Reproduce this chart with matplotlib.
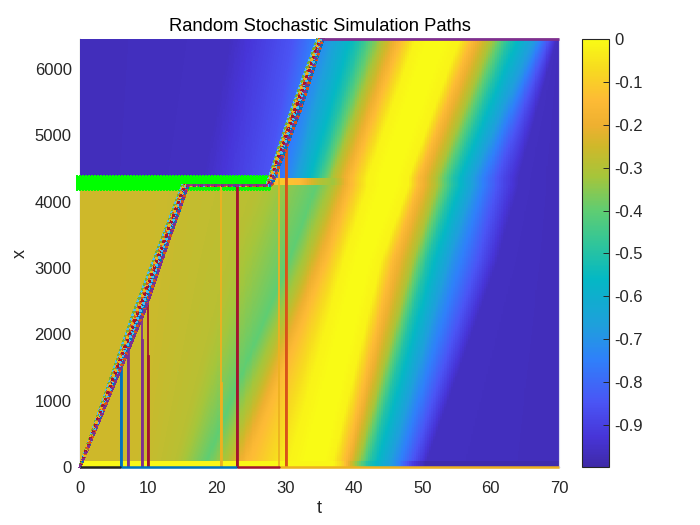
#!/usr/bin/env python3

import matplotlib
matplotlib.use("Agg")
import matplotlib.pyplot as plt
from matplotlib.colors import LinearSegmentedColormap
import numpy as np

plt.rcParams['font.family'] = ['Liberation Sans', 'DejaVu Sans']

# colour map, dark end to yellow end
cmap_stops = [0.0, 0.07, 0.15, 0.25, 0.33, 0.44, 0.52, 0.60, 0.68, 0.75, 0.80, 0.86, 0.93, 1.0]
cmap_colors = ['#3e2aa8', '#4735d8', '#4a55f5', '#2f80fa', '#1f9fdc', '#04b8c4', '#2fc59b',
               '#5fcd72', '#a6c53a', '#cfb82a', '#eeb030', '#fdbb35', '#f7da20', '#f9fb15']

# field below the flat part of the paths: t where each level is reached, per x row
lower_levels = [-0.25, -0.255, -0.29, -0.40, -0.30, -0.15, -0.02, 0.0, 0.0, -0.02, -0.15, -0.30, -0.50, -0.70, -0.85, -0.96, -0.97]
lower_x = [105, 3120, 4245]
lower_t_105 = [0, 8, 14, 18.5, 21.5, 24.5, 30.5, 33, 35.5, 37, 38.9, 40.5, 42.5, 46, 48.7, 50.7, 70]
lower_t_3120 = [0, 10, 22, 30.5, 33, 35.8, 38.5, 40.5, 42, 44, 45.8, 48.5, 50.7, 54.5, 58.2, 61, 70]
lower_t_4245 = [0, 10, 26, 34.5, 37, 39.5, 42, 44, 46, 48, 49.5, 52, 54.5, 58, 61, 64, 70]

# field above the flat part
upper_levels = [-0.97, -0.96, -0.85, -0.70, -0.50, -0.30, -0.15, -0.02, 0.0, 0.0, -0.02, -0.15, -0.30, -0.50, -0.70, -0.85, -0.96, -0.97]
upper_x = [4355, 6455]
upper_t_4355 = [0, 18, 27.5, 31, 34.6, 37, 39.5, 42, 44, 46, 48, 49.5, 52, 54.5, 58, 61, 64, 70]
upper_t_6455 = [0, 22, 31, 36, 41, 44.3, 46.8, 49, 51, 53, 55.5, 57.4, 60, 62.8, 66.8, 68.5, 69.6, 70]

# strip along the bottom and strip beside the flat part
bottom_strip_t = [0, 37, 38.5, 40, 42, 46, 48.5, 50.5, 70]
bottom_strip_v = [-0.01, -0.01, -0.1, -0.3, -0.5, -0.7, -0.9, -0.99, -0.99]
flat_strip_t = [0, 27, 29, 32, 35, 37, 39.5, 42, 44, 46, 48, 49.5, 52, 54.5, 58, 61, 64, 70]
flat_strip_v = [-0.27, -0.27, -0.11, -0.14, -0.30, -0.33, -0.15, -0.02, 0.0, 0.0, -0.02, -0.15, -0.30, -0.50, -0.70, -0.85, -0.96, -0.97]

# paths, matlab line colours
path_colors = ['#0072BD', '#4DBEEE', '#77AC30', '#EDB120', '#D95319', '#A2142F', '#7E2F8E']
x_ramp1_mid = 2370
x_flat1 = 4250
x_ramp2_mid = 5350
x_flat2 = 6450
ramp1_mid = [9.4, 8.0, 9.1, 8.6, 8.4, 8.9, 9.5]
ramp1_end = [15.8, 15.0, 15.6, 15.3, 15.2, 15.4, 15.7]
ramp2_start = [28.0, 27.3, 27.9, 27.6, 27.5, 27.7, 27.8]
ramp2_mid = [32.1, 30.8, 31.8, 31.3, 31.1, 31.5, 31.9]
ramp2_end = [35.5, 34.7, 35.4, 35.1, 35.0, 35.2, 35.3]

# drop lines: t, thick part top, thin part top, colour
drop_t = [6.0, 7.0, 9.0, 10.0, 20.55, 22.95, 29.1, 30.1]
drop_thick_top = [1540, 1800, 1915, 1675, 1265, 4250, 0, 4960]
drop_thin_top = [1540, 1800, 2320, 2590, 4250, 4250, 4735, 4960]
drop_colors = ['#0072BD', '#7E2F8E', '#7E2F8E', '#A2142F', '#EDB120', '#A2142F', '#EDB120', '#D95319']

# line lying on x=0
base_t = [0, 6.0, 23.0, 29.2, 70]
base_colors = ['#222222', '#0072BD', '#A2142F', '#EDB120']

green_t = [-0.6, 27.9]
green_x = 4290

xticks = [0, 10, 20, 30, 40, 50, 60, 70]
yticks = [0, 1000, 2000, 3000, 4000, 5000, 6000]
cbar_ticks = [0, -0.1, -0.2, -0.3, -0.4, -0.5, -0.6, -0.7, -0.8, -0.9]


def build_field(t_grid, x_grid):
    lower_rows = np.array([lower_t_105, lower_t_3120, lower_t_4245])
    upper_rows = np.array([upper_t_4355, upper_t_6455])
    z = np.zeros((len(x_grid), len(t_grid)))
    for i, x in enumerate(x_grid):
        if x < lower_x[0]:
            z[i] = np.interp(t_grid, bottom_strip_t, bottom_strip_v)
        elif x < lower_x[-1]:
            knots = [np.interp(x, lower_x, lower_rows[:, k]) for k in range(lower_rows.shape[1])]
            z[i] = np.interp(t_grid, knots, lower_levels)
        elif x < upper_x[0]:
            z[i] = np.interp(t_grid, flat_strip_t, flat_strip_v)
        else:
            knots = [np.interp(x, upper_x, upper_rows[:, k]) for k in range(upper_rows.shape[1])]
            z[i] = np.interp(t_grid, knots, upper_levels)
    return z


fig = plt.figure(figsize=(7, 5.25), dpi=100)
ax = fig.add_axes([80 / 700, 1 - 467 / 525, 479 / 700, 428 / 525])
cax = fig.add_axes([582 / 700, 1 - 467 / 525, 27 / 700, 428 / 525])

parula = LinearSegmentedColormap.from_list('parula_like', list(zip(cmap_stops, cmap_colors)), N=256)

t_grid = np.linspace(0, 70, 480)
x_grid = np.linspace(0, 6455, 430)
mesh = ax.pcolormesh(t_grid, x_grid, build_field(t_grid, x_grid), cmap=parula, vmin=-0.998, vmax=0,
                     shading='nearest', rasterized=True)

# green marks: band with a toothed edge
ax.plot(green_t, [green_x, green_x], color='#00ff00', lw=10.3, solid_capstyle='butt', clip_on=False, zorder=3)
ax.plot(green_t, [green_x, green_x], color='#00ff00', lw=11.5, ls=(0, (0.1, 0.1)), clip_on=False, zorder=3,
        antialiased=False)

for tv, thick, thin, col in zip(drop_t, drop_thick_top, drop_thin_top, drop_colors):
    ax.plot([tv, tv], [0, thin], color=col, lw=1.3, zorder=4)
    if thick > 0:
        ax.plot([tv, tv], [0, thick], color=col, lw=2.0, zorder=4)

path_x = [0, x_ramp1_mid, x_flat1, x_flat1, x_ramp2_mid, x_flat2]
for i, col in enumerate(path_colors):
    pt = [0, ramp1_mid[i], ramp1_end[i], ramp2_start[i], ramp2_mid[i], ramp2_end[i]]
    ax.plot(pt, path_x, color=col, lw=1.3, zorder=5, clip_on=False, antialiased=False)
for i, col in enumerate(path_colors):
    j = (i * 3 + 2) % 7
    pt = [0, ramp1_mid[j], ramp1_end[j], ramp2_start[j], ramp2_mid[j], ramp2_end[j]]
    ax.plot(pt, path_x, color=col, lw=1.1, ls=(i * 0.7, (1.3, 1.3 + 0.4 * i)), zorder=6, clip_on=False,
            antialiased=False, dash_capstyle='butt')
ax.plot([ramp1_end[-1], ramp2_start[1]], [x_flat1, x_flat1], color='#7E2F8E', lw=1.2, zorder=7)
ax.plot([ramp2_end[-1], 70], [x_flat2, x_flat2], color='#7E2F8E', lw=2.0, zorder=7, clip_on=False,
        solid_capstyle='butt')

for i, col in enumerate(base_colors):
    ax.plot(base_t[i:i + 2], [0, 0], color=col, lw=1.8, zorder=7, clip_on=False, solid_capstyle='butt')

ax.set_xlim(0, 70)
ax.set_ylim(0, 6455)
ax.set_xticks(xticks)
ax.set_yticks(yticks)
ax.set_axisbelow(True)
ax.tick_params(direction='in', length=4, width=0.6, labelsize=12, colors='#262626')
ax.tick_params(axis='x', pad=10)
ax.tick_params(axis='y', pad=6)
ax.spines['top'].set_visible(False)
ax.spines['right'].set_color('#dcdcf0')
ax.spines['left'].set_zorder(0.5)
ax.spines['bottom'].set_zorder(0.5)
ax.set_xlabel('t', fontsize=13, color='#262626', va='center')
ax.set_ylabel('x', fontsize=13, color='#262626', va='center')
ax.xaxis.set_label_coords(0.5, -0.096)
ax.yaxis.set_label_coords(-0.125, 0.5)
ax.set_title('Random Stochastic Simulation Paths', fontsize=13.2, color='black', pad=6)

cb = fig.colorbar(mesh, cax=cax)
cb.set_ticks(cbar_ticks)
cb.set_ticklabels(['0', '-0.1', '-0.2', '-0.3', '-0.4', '-0.5', '-0.6', '-0.7', '-0.8', '-0.9'])
cb.ax.tick_params(direction='in', length=4, width=0.7, labelsize=12, colors='#262626', pad=4)
cb.outline.set_edgecolor('#262626')
cb.outline.set_linewidth(0.8)

fig.savefig('out.png', dpi=100)
